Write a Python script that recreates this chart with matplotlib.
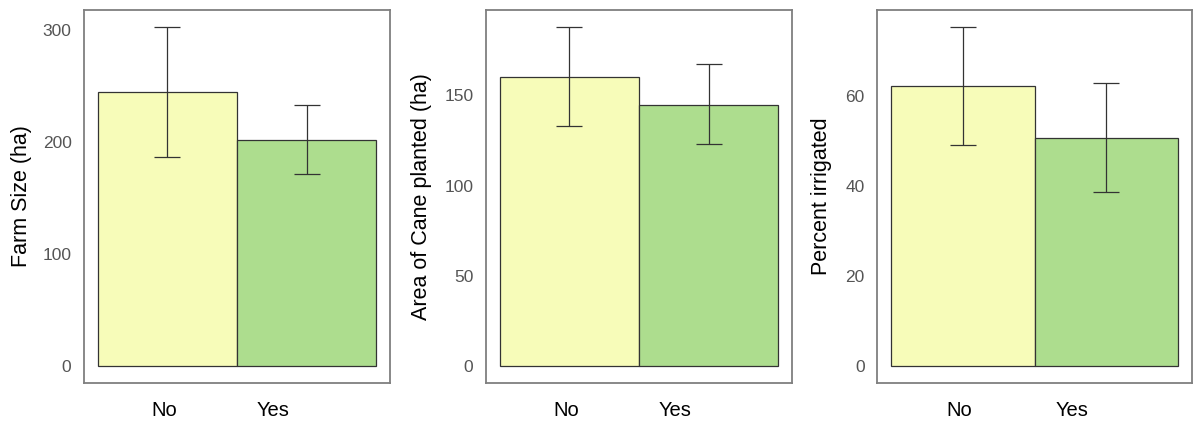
import numpy as np
import matplotlib
matplotlib.use("Agg")
import matplotlib.pyplot as plt

plt.rcParams['font.family'] = ['Liberation Sans', 'DejaVu Sans']

# Data
groups = ["No", "Yes"]
farm_size = [245, 202]
farm_size_lo = [187, 171.5]
farm_size_hi = [303, 233]

cane_area = [160, 145]
cane_area_lo = [133, 123]
cane_area_hi = [188, 167.5]

pct_irrigated = [62.2, 50.8]
pct_irrigated_lo = [49.2, 38.7]
pct_irrigated_hi = [75.4, 63.0]

ylabels = ["Farm Size (ha)", "Area of Cane planted (ha)", "Percent irrigated"]
yticks = [[0, 100, 200, 300], [0, 50, 100, 150], [0, 20, 40, 60]]

bar_colors = ["#f7fcb9", "#addd8e"]

W, H = 1194, 423
fig = plt.figure(figsize=(W / 100, H / 100), dpi=100)

# axes frames in pixels: left, right
frames = [(84, 390), (486, 792), (877, 1192)]
label_x = [-0.171, -0.178, -0.143]

panels = [
    (farm_size, farm_size_lo, farm_size_hi),
    (cane_area, cane_area_lo, cane_area_hi),
    (pct_irrigated, pct_irrigated_lo, pct_irrigated_hi),
]

x = np.arange(len(groups))
for i, (means, lo, hi) in enumerate(panels):
    l, r = frames[i]
    ax = fig.add_axes([l / W, (H - 383) / H, (r - l) / W, 373 / H])
    means = np.array(means)
    lo = np.array(lo)
    hi = np.array(hi)
    ax.bar(x, means, width=1.0, color=bar_colors, edgecolor="#333333", linewidth=0.9)
    ax.errorbar(x, means, yerr=[means - lo, hi - means], fmt="none",
                ecolor="#333333", elinewidth=0.9, capsize=9.7, capthick=0.9)
    top = hi.max()
    pad = 0.05 * top
    ax.set_ylim(-pad, top + pad)
    ax.set_xlim(-0.6, 1.6)
    ax.set_yticks(yticks[i])
    ax.set_xticks([-0.025, 0.76])
    ax.set_xticklabels(groups, fontsize=14.5, color="black")
    ax.tick_params(axis="y", length=0, pad=9, labelsize=12.5, labelcolor="#555555")
    ax.tick_params(axis="x", length=0, pad=13)
    ax.set_ylabel(ylabels[i], fontsize=15.5)
    ax.yaxis.set_label_coords(label_x[i], 0.5)
    for s in ax.spines.values():
        s.set_color("#7f7f7f")
        s.set_linewidth(1.3)

fig.savefig("out.png", dpi=100)
